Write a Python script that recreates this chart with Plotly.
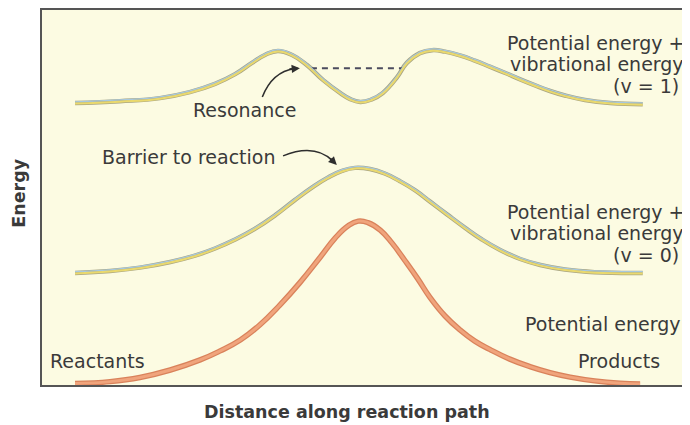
import plotly.graph_objects as go

# ---- data (distance units 0-10, energy units 0-10) ----
pe_x = [0.51, 1.05, 1.51, 1.98, 2.44, 2.75, 3.06, 3.36, 3.67, 3.98, 4.29, 4.52, 4.72, 4.88, 5.03, 5.22, 5.40, 5.60, 5.80, 5.99, 6.22, 6.45, 6.68, 6.91, 7.22, 7.53, 7.84, 8.15, 8.53, 8.92, 9.23]
pe_y = [0.04, 0.09, 0.20, 0.40, 0.67, 0.91, 1.20, 1.60, 2.13, 2.73, 3.40, 3.91, 4.24, 4.37, 4.33, 4.13, 3.79, 3.32, 2.83, 2.33, 1.84, 1.47, 1.17, 0.95, 0.69, 0.49, 0.33, 0.21, 0.11, 0.05, 0.03]

v0_x = [0.51, 1.05, 1.51, 1.98, 2.36, 2.67, 2.98, 3.29, 3.60, 3.90, 4.17, 4.41, 4.63, 4.83, 5.06, 5.29, 5.52, 5.76, 5.99, 6.25, 6.53, 6.79, 7.07, 7.38, 7.69, 8.07, 8.53, 9.27]
v0_y = [2.99, 3.04, 3.13, 3.28, 3.45, 3.64, 3.88, 4.17, 4.53, 4.93, 5.27, 5.53, 5.71, 5.79, 5.76, 5.64, 5.44, 5.19, 4.89, 4.55, 4.19, 3.88, 3.60, 3.36, 3.20, 3.08, 3.01, 2.99]

v1_x = [0.51, 1.20, 1.82, 2.28, 2.67, 2.98, 3.24, 3.44, 3.64, 3.86, 4.09, 4.34, 4.60, 4.75, 4.91, 5.08, 5.26, 5.48, 5.63, 5.83, 6.02, 6.22, 6.45, 6.68, 6.91, 7.15, 7.38, 7.61, 7.84, 8.07, 8.38, 8.77, 9.27]
v1_y = [7.52, 7.57, 7.65, 7.81, 8.03, 8.29, 8.59, 8.80, 8.91, 8.80, 8.53, 8.13, 7.79, 7.63, 7.55, 7.61, 7.79, 8.21, 8.59, 8.85, 8.93, 8.89, 8.79, 8.65, 8.49, 8.32, 8.15, 7.99, 7.84, 7.72, 7.60, 7.52, 7.49]

res_x = [4.15, 5.57]
res_y = [8.45, 8.45]

TXT = "#3a3a3a"
FONT = "DejaVu Sans"
SPL = dict(shape="spline", smoothing=1.3)

fig = go.Figure()

# potential energy (orange, two-tone)
fig.add_trace(go.Scatter(x=pe_x, y=pe_y, mode="lines", line=dict(color="#d9825b", width=5.5, **SPL), hoverinfo="skip"))
fig.add_trace(go.Scatter(x=pe_x, y=pe_y, mode="lines", line=dict(color="#f0a47c", width=3, **SPL), hoverinfo="skip"))

# vibrational curves: olive base, yellow core, blue highlight slightly above
for xs, ys in [(v0_x, v0_y), (v1_x, v1_y)]:
    fig.add_trace(go.Scatter(x=xs, y=ys, mode="lines", line=dict(color="#a9a684", width=4.5, **SPL), hoverinfo="skip"))
    fig.add_trace(go.Scatter(x=xs, y=ys, mode="lines", yaxis="y3", line=dict(color="#ead96e", width=2, **SPL), hoverinfo="skip"))
    fig.add_trace(go.Scatter(x=xs, y=ys, mode="lines", yaxis="y2", line=dict(color="#a7c8de", width=1.2, **SPL), hoverinfo="skip"))

# resonance level
fig.add_trace(go.Scatter(x=res_x, y=res_y, mode="lines", line=dict(color="#4b4b5e", width=2, dash="6px,5px"), hoverinfo="skip"))

px = 1 / 37.5  # one pixel in energy units

def label(text, x, y, xanchor, size=19):
    fig.add_annotation(x=x, y=y, xref="x", yref="y", text=text, showarrow=False,
                       xanchor=xanchor, yanchor="middle",
                       font=dict(family=FONT, size=size, color=TXT))

label("Potential energy +", 9.94, 9.12, "right")
label("vibrational energy", 9.94, 8.56, "right")
label("(v = 1)", 9.86, 7.97, "right")
label("Potential energy +", 9.94, 4.61, "right")
label("vibrational energy", 9.94, 4.05, "right")
label("(v = 0)", 9.86, 3.47, "right")
label("Potential energy", 9.88, 1.63, "right")
label("Reactants", 0.09, 0.64, "left")
label("Products", 9.57, 0.64, "right")
label("Resonance", 3.13, 7.33, "center")
label("Barrier to reaction", 0.89, 6.08, "left")

# curved arrows
fig.add_shape(type="path", path="M 3.40 7.68 Q 3.55 8.35 3.90 8.44", xref="x", yref="y",
              line=dict(color="#2e2e2e", width=1.5))
fig.add_annotation(x=3.98, y=8.45, xref="x", yref="y", ax=-12, ay=1, text="", showarrow=True,
                   arrowhead=2, arrowsize=1.1, arrowwidth=1.5, arrowcolor="#2e2e2e")
fig.add_shape(type="path", path="M 3.72 6.11 Q 4.21 6.45 4.49 5.97", xref="x", yref="y",
              line=dict(color="#2e2e2e", width=1.5))
fig.add_annotation(x=4.55, y=5.87, xref="x", yref="y", ax=-8, ay=-8, text="", showarrow=True,
                   arrowhead=2, arrowsize=1.1, arrowwidth=1.5, arrowcolor="#2e2e2e")

# axis titles
fig.add_annotation(x=0.471, y=-0.072, xref="paper", yref="paper", text="Distance along reaction path",
                   showarrow=False, xanchor="center", yanchor="middle",
                   font=dict(family=FONT, size=17.5, color=TXT, weight="bold"))
fig.add_annotation(x=-0.036, y=0.512, xref="paper", yref="paper", text="Energy", textangle=-90,
                   showarrow=False, xanchor="center", yanchor="middle",
                   font=dict(family=FONT, size=17.5, color=TXT, weight="bold"))

# page has an 8px body margin, so the figure is 8px smaller on each axis
fig.update_layout(
    width=682, height=417,
    margin=dict(l=34, r=0, t=2, b=40),
    paper_bgcolor="white", plot_bgcolor="#fcfbe2",
    showlegend=False,
    xaxis=dict(range=[0, 10], showgrid=False, zeroline=False, showticklabels=False, ticks="",
               showline=True, mirror=True, linecolor="#555555", linewidth=1.5, fixedrange=True),
    yaxis=dict(range=[0, 10], showgrid=False, zeroline=False, showticklabels=False, ticks="",
               showline=True, linecolor="#555555", linewidth=1.5, fixedrange=True),
    yaxis2=dict(range=[-1.2 * px, 10 - 1.2 * px], overlaying="y", visible=False, fixedrange=True),
    yaxis3=dict(range=[0.6 * px, 10 + 0.6 * px], overlaying="y", visible=False, fixedrange=True),
)

fig.write_html("out.html")
